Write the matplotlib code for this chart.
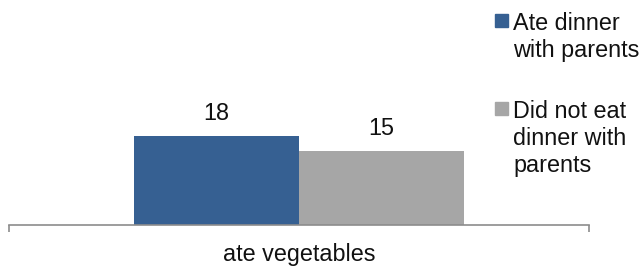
import matplotlib.pyplot as plt
from matplotlib.patches import Rectangle

plt.rcParams["font.family"] = ["Liberation Sans", "DejaVu Sans"]

categories = ["ate vegetables"]
series_names = ["Ate dinner\nwith parents", "Did not eat\ndinner with\nparents"]
values = [18, 15]
colors = ["#366092", "#A6A6A6"]

# bar geometry relative to the single category slot (xlim -0.5..0.5)
BAR_WIDTH = 0.284
OFFSETS = [-BAR_WIDTH / 2, BAR_WIDTH / 2]
FONT = 16.8
TEXT_COLOR = "#111111"
AXIS_COLOR = "#8C8C8C"

W, H = 642, 266
fig = plt.figure(figsize=(W / 100, H / 100), dpi=100)
ax = fig.add_axes([9 / W, 41.5 / H, 580 / W, 98.6 / H])

for i, (val, col) in enumerate(zip(values, colors)):
    x = [c + OFFSETS[i] for c in range(len(categories))]
    bars = ax.bar(x, [val], width=BAR_WIDTH, color=col, linewidth=0)
    ax.bar_label(bars, labels=[f"{val}"], padding=7.6, fontsize=FONT, color=TEXT_COLOR)

ax.set_xlim(-0.5, len(categories) - 0.5)
ax.set_ylim(0, 20)
for side in ["top", "left", "right"]:
    ax.spines[side].set_visible(False)
ax.spines["bottom"].set_color(AXIS_COLOR)
ax.spines["bottom"].set_linewidth(1.2)
ax.set_yticks([])
ax.set_xticks(range(len(categories)))
ax.set_xticklabels(categories, fontsize=FONT, color=TEXT_COLOR)
ax.tick_params(axis="x", which="major", length=0, pad=13.2)
ax.set_xticks([-0.5, len(categories) - 0.5], minor=True)
ax.tick_params(axis="x", which="minor", length=5, width=1.2, color=AXIS_COLOR)

# legend drawn by hand so the swatch lines up with the first text line
legend_tops = [11.6, 100.0]
for name, col, top in zip(series_names, colors, legend_tops):
    fig.patches.append(Rectangle((495 / W, 1 - (top + 15) / H), 13 / W, 13 / H,
                                 transform=fig.transFigure, color=col))
    fig.text(513 / W, 1 - top / H, name, fontsize=FONT, color=TEXT_COLOR,
             va="top", ha="left", linespacing=1.22)

fig.savefig("out.png", dpi=100)
